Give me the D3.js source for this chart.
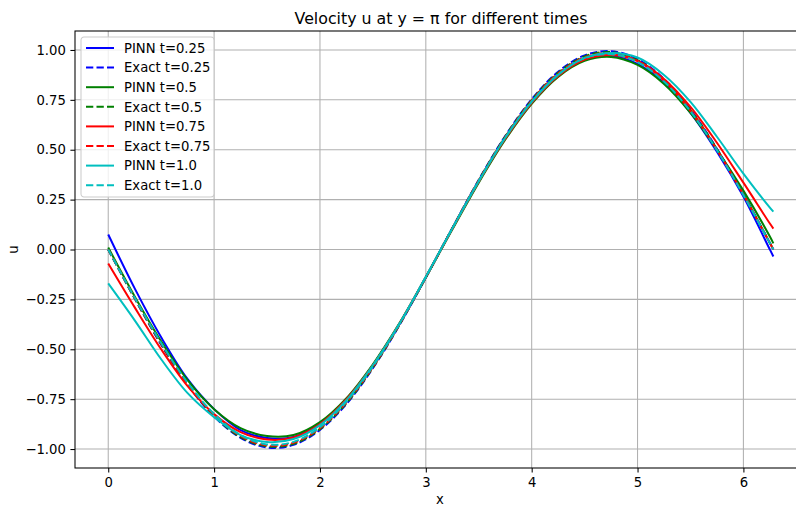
<!DOCTYPE html>
<html>
<head>
<meta charset="utf-8">
<script src="https://cdn.jsdelivr.net/npm/d3@7"></script>
<style>
  body { margin: 0; background: #fff; }
  svg { font-family: "DejaVu Sans", sans-serif; }
</style>
</head>
<body>
<div id="chart"></div>
<script>
// x samples along y = pi
const xs = [0, 0.25, 0.5, 0.75, 1.0, 1.25, 1.5, 1.75, 2.0, 2.25, 2.5, 2.75, 3.0, 3.25, 3.5,
  3.75, 4.0, 4.25, 4.5, 4.75, 5.0, 5.25, 5.5, 5.75, 6.0, 6.25, 6.283];

const pinn025 = [0.075, -0.195, -0.44, -0.65, -0.80, -0.905, -0.945, -0.94, -0.87, -0.75, -0.58, -0.375, -0.14, 0.105,
  0.345, 0.56, 0.74, 0.875, 0.95, 0.97, 0.93, 0.835, 0.685, 0.49, 0.265, 0.0, -0.035];
const exact025 = [0, -0.246, -0.477, -0.679, -0.837, -0.944, -0.992, -0.979, -0.904, -0.774, -0.595, -0.380, -0.140, 0.107,
  0.349, 0.569, 0.753, 0.891, 0.973, 0.994, 0.954, 0.855, 0.702, 0.505, 0.278, 0.033, 0];
const pinn05 = [0.01, -0.235, -0.46, -0.655, -0.80, -0.895, -0.935, -0.93, -0.865, -0.745, -0.575, -0.37, -0.14, 0.10,
  0.335, 0.55, 0.73, 0.865, 0.945, 0.965, 0.925, 0.83, 0.685, 0.50, 0.295, 0.065, 0.031];
const exact05 = [0, -0.245, -0.474, -0.675, -0.833, -0.940, -0.987, -0.974, -0.900, -0.770, -0.592, -0.378, -0.140, 0.107,
  0.347, 0.566, 0.749, 0.886, 0.968, 0.989, 0.949, 0.850, 0.699, 0.503, 0.276, 0.033, 0];
const pinn075 = [-0.07, -0.29, -0.50, -0.685, -0.825, -0.915, -0.952, -0.942, -0.875, -0.75, -0.58, -0.372, -0.138, 0.104,
  0.34, 0.555, 0.735, 0.87, 0.952, 0.975, 0.945, 0.855, 0.715, 0.535, 0.335, 0.13, 0.105];
const exact075 = [0, -0.243, -0.472, -0.672, -0.828, -0.935, -0.982, -0.969, -0.895, -0.766, -0.589, -0.376, -0.139, 0.106,
  0.346, 0.563, 0.746, 0.882, 0.963, 0.984, 0.945, 0.846, 0.695, 0.500, 0.275, 0.033, 0];
const pinn10 = [-0.17, -0.355, -0.55, -0.72, -0.84, -0.93, -0.965, -0.95, -0.88, -0.755, -0.58, -0.372, -0.137, 0.105,
  0.342, 0.56, 0.74, 0.875, 0.96, 0.985, 0.962, 0.875, 0.74, 0.565, 0.38, 0.21, 0.19];
const exact10 = [0, -0.242, -0.469, -0.668, -0.824, -0.930, -0.977, -0.964, -0.891, -0.762, -0.586, -0.374, -0.138, 0.106,
  0.344, 0.561, 0.742, 0.877, 0.958, 0.979, 0.940, 0.842, 0.692, 0.498, 0.273, 0.032, 0];

const seriesNames = ["PINN t=0.25", "Exact t=0.25", "PINN t=0.5", "Exact t=0.5",
  "PINN t=0.75", "Exact t=0.75", "PINN t=1.0", "Exact t=1.0"];
const seriesValues = [pinn025, exact025, pinn05, exact05, pinn075, exact075, pinn10, exact10];
const seriesColors = ["#0000ff", "#0000ff", "#008000", "#008000", "#ff0000", "#ff0000", "#00bfbf", "#00bfbf"];
const seriesDashed = [false, true, false, true, false, true, false, true];

const xTicks = [0, 1, 2, 3, 4, 5, 6];
const yTicks = [-1.0, -0.75, -0.5, -0.25, 0.0, 0.25, 0.5, 0.75, 1.0];

const width = 796, height = 506;
const plotLeft = 75, plotRight = 806.6, plotTop = 31, plotBottom = 468;
const fontSize = 13.2;

const svg = d3.select("#chart").append("svg")
  .attr("width", width)
  .attr("height", height);

const x = d3.scaleLinear().domain([-0.314, 6.597]).range([plotLeft, plotRight]);
const y = d3.scaleLinear().domain([-1.095, 1.095]).range([plotBottom, plotTop]);

// grid
const grid = svg.append("g").attr("class", "grid");
grid.selectAll(".gx").data(xTicks).enter().append("line")
  .attr("x1", d => x(d)).attr("x2", d => x(d))
  .attr("y1", plotTop).attr("y2", plotBottom)
  .attr("stroke", "#b0b0b0").attr("stroke-width", 1.05);
grid.selectAll(".gy").data(yTicks).enter().append("line")
  .attr("x1", plotLeft).attr("x2", plotRight)
  .attr("y1", d => y(d)).attr("y2", d => y(d))
  .attr("stroke", "#b0b0b0").attr("stroke-width", 1.05);

// lines
const line = d3.line()
  .x((d, i) => x(xs[i]))
  .y(d => y(d))
  .curve(d3.curveCatmullRom.alpha(0.5));

svg.append("g").selectAll("path")
  .data(seriesValues)
  .enter().append("path")
  .attr("d", line)
  .attr("fill", "none")
  .attr("stroke", (d, i) => seriesColors[i])
  .attr("stroke-width", 2)
  .attr("stroke-dasharray", (d, i) => seriesDashed[i] ? "7.3,3.2" : null);

// axes
const xAxis = svg.append("g")
  .attr("transform", "translate(0," + plotBottom + ")")
  .call(d3.axisBottom(x).tickValues(xTicks).tickSize(4.6).tickPadding(4.6).tickFormat(d3.format("d")));
const yAxis = svg.append("g")
  .attr("transform", "translate(" + plotLeft + ",0)")
  .call(d3.axisLeft(y).tickValues(yTicks).tickSize(4.6).tickPadding(4.6)
    .tickFormat(d => d3.format(".2f")(d).replace("-", "\u2212")));

[xAxis, yAxis].forEach(a => {
  a.select(".domain").remove();
  a.selectAll("text").attr("font-size", fontSize).attr("fill", "#000").attr("font-family", "DejaVu Sans");
  a.selectAll("line").attr("stroke", "#000").attr("stroke-width", 1.05);
});

// spines
svg.append("rect")
  .attr("x", plotLeft).attr("y", plotTop)
  .attr("width", plotRight - plotLeft).attr("height", plotBottom - plotTop)
  .attr("fill", "none").attr("stroke", "#000").attr("stroke-width", 1.05);

// labels
svg.append("text")
  .attr("x", 441).attr("y", 24)
  .attr("text-anchor", "middle")
  .attr("font-size", 15.8)
  .text("Velocity u at y = \u03c0 for different times");
svg.append("text")
  .attr("x", 440).attr("y", 504)
  .attr("text-anchor", "middle")
  .attr("font-size", fontSize)
  .text("x");
svg.append("text")
  .attr("transform", "translate(18," + ((plotTop + plotBottom) / 2) + ") rotate(-90)")
  .attr("text-anchor", "middle")
  .attr("font-size", fontSize)
  .text("u");

// legend
const legend = svg.append("g").attr("transform", "translate(81,37)");
legend.append("rect")
  .attr("width", 133).attr("height", 160)
  .attr("rx", 3)
  .attr("fill", "#fff").attr("fill-opacity", 0.8)
  .attr("stroke", "#cccccc").attr("stroke-width", 1.05);
const items = legend.selectAll(".item")
  .data(seriesNames)
  .enter().append("g")
  .attr("transform", (d, i) => "translate(0," + (11 + i * 19.6) + ")");
items.append("line")
  .attr("x1", 5).attr("x2", 33)
  .attr("stroke", (d, i) => seriesColors[i])
  .attr("stroke-width", 2)
  .attr("stroke-dasharray", (d, i) => seriesDashed[i] ? "7.3,3.2" : null);
items.append("text")
  .attr("x", 43).attr("y", 4.7)
  .attr("font-size", fontSize)
  .text(d => d);
</script>
</body>
</html>
